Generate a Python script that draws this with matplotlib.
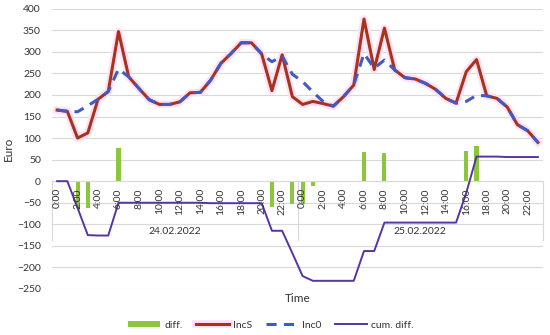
import matplotlib
matplotlib.use("Agg")
import matplotlib.pyplot as plt
import matplotlib.patheffects as pe
import numpy as np

plt.rcParams['font.family'] = ['Lato', 'DejaVu Sans']

# ---- data (hourly, 24.02.2022 0:00 .. 25.02.2022 23:00) ----
hours = list(range(48))
tick_labels = ["0:00", "2:00", "4:00", "6:00", "8:00", "10:00", "12:00", "14:00",
               "16:00", "18:00", "20:00", "22:00",
               "0:00", "2:00", "4:00", "6:00", "8:00", "10:00", "12:00", "14:00",
               "16:00", "18:00", "20:00", "22:00"]
dates = ["24.02.2022", "25.02.2022"]

inc_s = [165, 162, 100, 112, 190, 208, 347, 242, 215, 189, 178, 178,
         184, 205, 206, 234, 273, 296, 321, 321, 295, 210, 293, 196,
         178, 185, 180, 174, 196, 223, 376, 259, 355, 258, 240, 237,
         227, 213, 192, 181, 254, 282, 198, 192, 172, 131, 117, 90]

inc_0 = [165, 162, 161, 175, 190, 208, 260, 242, 215, 189, 178, 178,
         184, 205, 206, 234, 273, 296, 321, 321, 295, 277, 290, 248,
         231, 207, 185, 174, 196, 223, 296, 262, 281, 258, 240, 237,
         227, 213, 192, 181, 185, 199, 198, 192, 172, 131, 117, 90]

diff = [0, 0, -62, -62, 0, 0, 76, 0, 0, 0, 0, 0,
        0, 0, 0, 0, 0, 0, 0, 0, 0, -60, 0, -52,
        -52, -10, 0, 0, 0, 0, 68, 0, 66, 0, 0, 0,
        0, 0, 0, 0, 70, 82, 0, 0, 0, 0, 0, 0]

cum_diff = [0, 0, -62, -125, -126, -126, -50, -50, -50, -50, -50, -50,
            -50, -50, -50, -51, -51, -51, -51, -51, -51, -115, -115, -167,
            -220, -231, -231, -231, -231, -231, -162, -162, -96, -96, -96, -96,
            -96, -96, -96, -96, -27, 57, 57, 57, 56, 56, 56, 56]

# ---- figure ----
fig = plt.figure(figsize=(5.5, 3.35), dpi=100)
ax = fig.add_axes([52 / 550, 1 - 289 / 335, 491 / 550, 280.3 / 335])

x = np.arange(len(hours))
txt = '#333333'
grid_c = '#D9D9D9'

ax.bar(x, diff, width=0.4, color='#8CC63F', linewidth=0, zorder=2, label='diff.')
ax.plot(x, inc_s, color='#A8321A', lw=2.2, zorder=3, label='IncS',
        path_effects=[pe.Stroke(linewidth=5.5, foreground='#FFE0F6'), pe.Normal()])
ax.plot(x, inc_0, color='#3F5BC4', lw=2.2, dashes=(3.3, 2.4), zorder=4, label='Inc0')
ax.plot(x, cum_diff, color='#5634A3', lw=1.4, zorder=5, label='cum. diff.')

ax.set_xlim(-0.5, len(hours) - 0.5)
ax.set_ylim(-250, 400)
yt = np.arange(-250, 401, 50)
ax.set_yticks(yt)
for y in yt:
    ax.axhline(y, color=grid_c, lw=0.8, zorder=0.5)

for s in ['top', 'right', 'left']:
    ax.spines[s].set_visible(False)
ax.spines['bottom'].set_position(('data', 0))
ax.spines['bottom'].set_color(grid_c)
ax.spines['bottom'].set_linewidth(0.8)

ax.set_xticks(x[::2])
ax.set_xticklabels(tick_labels, rotation=90, va='top', ha='center')
ax.tick_params(axis='x', length=0, pad=5, labelsize=7.5, labelcolor=txt)
ax.tick_params(axis='y', length=0, pad=8, labelsize=7.5, labelcolor=txt)
ax.xaxis.set_zorder(6)

# group separators and date labels
for b in [-0.5, 23.5, 47.5]:
    ax.plot([b, b], [0, -137], color=grid_c, lw=0.8, zorder=1, clip_on=False)
for i, d in enumerate(dates):
    ax.annotate(d, xy=(i * 24 + 11.5, 0), xytext=(0, -36), textcoords='offset points',
                ha='center', va='center', fontsize=7.5, color=txt)

ax.set_xlabel('Time', fontsize=8.5, color=txt)
ax.xaxis.set_label_coords(0.5, -0.015)
ax.set_ylabel('Euro', fontsize=8.5, color=txt)
ax.yaxis.set_label_coords(-0.077, 0.5)

handles, labels = ax.get_legend_handles_labels()
order = [labels.index(l) for l in ['diff.', 'IncS', 'Inc0', 'cum. diff.']]
fig.legend([handles[i] for i in order], [labels[i] for i in order], ncol=4,
           loc='center', bbox_to_anchor=(271 / 550, 1 - 325 / 335), frameon=False,
           fontsize=7.5, handlelength=3.1, handletextpad=0.4, columnspacing=1.3,
           labelcolor=txt, handleheight=0.5)

fig.savefig('out.png', dpi=100)
